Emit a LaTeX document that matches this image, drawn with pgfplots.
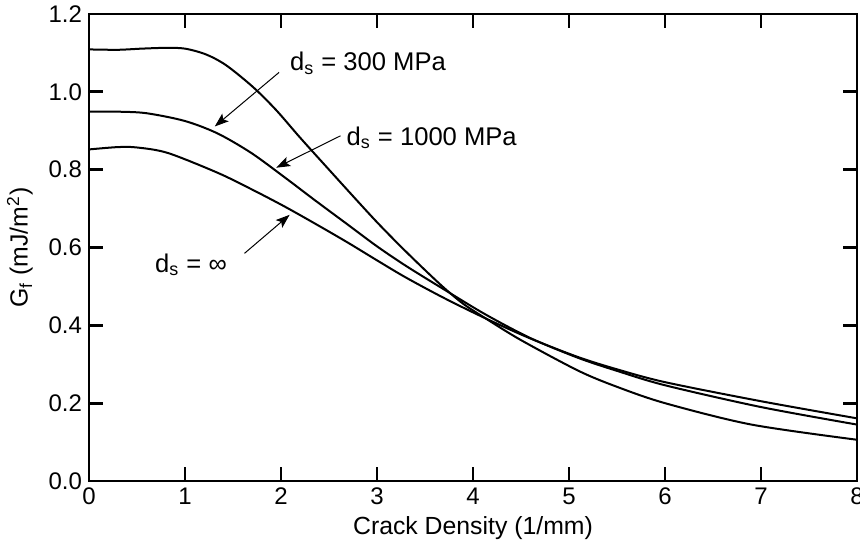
\documentclass[border=0pt]{standalone}
\usepackage{fontspec}
\setmainfont{Liberation Sans}
\usepackage{pgfplots}
\pgfplotsset{compat=1.18}
\usetikzlibrary{arrows.meta}

% curves
\pgfplotstableread{
x      y
0      1.109
0.3    1.108
0.55   1.111
0.8    1.113
1.0    1.111
1.22   1.096
1.43   1.068
1.71   1.012
1.95   0.953
2.2    0.882
2.5    0.800
2.75   0.732
3.0    0.665
3.25   0.602
3.5    0.542
3.7    0.496
3.9    0.455
4.13   0.418
4.5    0.362
5.1    0.283
5.5    0.242
6.0    0.200
6.9    0.145
8.0    0.106
}\dsthree

\pgfplotstableread{
x      y
0      0.949
0.3    0.949
0.6    0.945
1.0    0.925
1.34   0.893
1.69   0.843
2.04   0.780
2.35   0.722
2.7    0.658
3.0    0.603
3.3    0.553
3.7    0.492
4.13   0.428
4.6    0.367
5.1    0.316
5.5    0.283
6.0    0.246
7.0    0.190
8.0    0.145
}\dsthousand

\pgfplotstableread{
x      y
0      0.852
0.3    0.858
0.5    0.857
0.82   0.843
1.34   0.792
1.69   0.750
2.04   0.705
2.4    0.655
2.7    0.612
3.0    0.567
3.3    0.523
3.7    0.470
4.13   0.418
4.6    0.366
5.1    0.318
5.5    0.287
6.0    0.254
7.0    0.205
8.0    0.161
}\dsinf

\begin{document}
\begin{tikzpicture}
\begin{axis}[
    name=ax,
    scale only axis,
    width=384pt, height=233.5pt,
    xmin=0, xmax=8, ymin=0, ymax=1.2,
    xtick={0,1,2,3,4,5,6,7,8},
    ytick={0,0.2,0.4,0.6,0.8,1.0,1.2},
    tick align=inside,
    major tick length=7pt,
    axis line style={line width=1.4pt},
    tick style={line width=1.4pt, black},
    /pgf/number format/assume math mode=true,
    yticklabel style={/pgf/number format/.cd, fixed, fixed zerofill, precision=1},
    tick label style={font=\fontsize{12}{14}\selectfont},
    label style={font=\fontsize{12.4}{14}\selectfont},
    xlabel={Crack Density (1/mm)},
    ylabel={G\textsubscript{f} (mJ/m\textsuperscript{2})},
    xlabel style={at={(axis description cs:0.5,-0.1)}, anchor=center},
    ylabel style={at={(axis description cs:-0.09,0.5)}, anchor=center},
]
\addplot[black, line width=1pt, smooth] table {\dsthree};
\addplot[black, line width=1pt, smooth] table {\dsthousand};
\addplot[black, line width=1pt, smooth] table {\dsinf};

\draw[-{Stealth[length=7pt,width=5pt,inset=1.5pt]}, line width=0.5pt] (axis cs:1.98,1.050) -- (axis cs:1.31,0.911);
\draw[-{Stealth[length=7pt,width=5pt,inset=1.5pt]}, line width=0.5pt] (axis cs:2.62,0.887) -- (axis cs:1.95,0.805);
\draw[-{Stealth[length=7pt,width=5pt,inset=1.5pt]}, line width=0.5pt] (axis cs:1.62,0.585) -- (axis cs:2.09,0.684);

\node[anchor=west, inner sep=0pt, font=\fontsize{12.8}{14}\selectfont] at (axis cs:2.09,1.074) {d\textsubscript{s} = 300 MPa};
\node[anchor=west, inner sep=0pt, font=\fontsize{12.8}{14}\selectfont] at (axis cs:2.68,0.882) {d\textsubscript{s} = 1000 MPa};
\node[anchor=west, inner sep=0pt, font=\fontsize{12.8}{14}\selectfont] at (axis cs:0.685,0.556) {d\textsubscript{s} = ∞};
\end{axis}
\pgfresetboundingbox
\path[use as bounding box] ([shift={(-44.5pt,-32.5pt)}]ax.south west) rectangle ([shift={(1.5pt,7pt)}]ax.north east);
\end{tikzpicture}
\end{document}
